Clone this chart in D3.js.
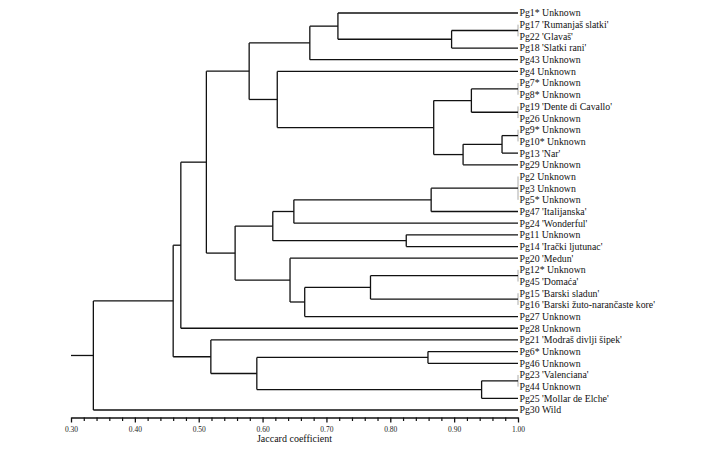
<!DOCTYPE html>
<html><head><meta charset="utf-8">
<script src="https://cdn.jsdelivr.net/npm/d3@7"></script>
<style>body{margin:0;background:#fff}svg{display:block}</style>
</head><body>
<svg id="chart" width="718" height="449"></svg>
<script>
// Leaf labels, top to bottom
const leafLabels = [
  "Pg1* Unknown", "Pg17 'Rumanjaš slatki'", "Pg22 'Glavaš'", "Pg18 'Slatki rani'", "Pg43 Unknown",
  "Pg4 Unknown", "Pg7* Unknown", "Pg8* Unknown", "Pg19 'Dente di Cavallo'", "Pg26 Unknown",
  "Pg9* Unknown", "Pg10* Unknown", "Pg13 'Nar'", "Pg29 Unknown", "Pg2 Unknown",
  "Pg3 Unknown", "Pg5* Unknown", "Pg47 'Italijanska'", "Pg24 'Wonderful'", "Pg11 Unknown",
  "Pg14 'Irački ljutunac'", "Pg20 'Medun'", "Pg12* Unknown", "Pg45 'Domaća'", "Pg15 'Barski sladun'",
  "Pg16 'Barski žuto-narančaste kore'", "Pg27 Unknown", "Pg28 Unknown", "Pg21 'Modraš divlji šipek'", "Pg6* Unknown",
  "Pg46 Unknown", "Pg23 'Valenciana'", "Pg44 Unknown", "Pg25 'Mollar de Elche'", "Pg30 Wild"
];
// Merge table: children (index < 35 = leaf, else merge 35+k), similarity
const mergeChildren = [
  [1,2],[35,3],[0,36],[37,4],[6,7],[8,9],[39,40],[10,11],[42,12],[43,13],
  [41,44],[5,45],[38,46],[14,15,16],[48,17],[49,18],[19,20],[50,51],[22,23],[24,25],
  [53,54],[55,26],[21,56],[52,57],[47,58],[59,27],[29,30],[31,32],[62,33],[61,63],
  [28,64],[60,65],[66,34]
];
const mergeSim = [
  1.00,0.896,0.718,0.674,1.00,1.00,0.927,1.00,0.975,0.914,
  0.868,0.623,0.579,1.00,0.864,0.649,0.825,0.616,1.00,1.00,
  0.769,0.666,0.643,0.557,0.512,0.472,0.859,1.00,0.943,0.591,
  0.519,0.460,0.335
];
const axisMin = 0.30, axisMax = 1.00;
const majorTicks = [0.30,0.40,0.50,0.60,0.70,0.80,0.90,1.00];
const minorTicks = [0.32,0.34,0.36,0.38,0.42,0.44,0.46,0.48,0.52,0.54,0.56,0.58,0.62,0.64,0.66,0.68,
                    0.72,0.74,0.76,0.78,0.82,0.84,0.86,0.88,0.92,0.94,0.96,0.98];
const axisTitle = "Jaccard coefficient";

// build tree
const nLeaves = leafLabels.length;
function build(id){
  if (id < nLeaves) return {name: leafLabels[id], sim: 1.0, leaf: true};
  const k = id - nLeaves;
  return {sim: mergeSim[k], children: mergeChildren[k].map(build)};
}
const rootData = build(nLeaves + mergeChildren.length - 1);

const svg = d3.select("#chart");
const x = d3.scaleLinear().domain([axisMin, axisMax]).range([71, 518]);
const yTop = 13, yBot = 410;

const root = d3.hierarchy(rootData);
d3.cluster().separation(() => 1).size([yBot - yTop, 1])(root);
const lv = root.leaves();
const y = d3.scaleLinear().domain([lv[0].x, lv[lv.length-1].x]).range([yTop, yBot]);
root.each(d => { d.py = y(d.x); });

const g = svg.append("g").attr("fill","none").attr("stroke","#111").attr("stroke-width",1.3);

root.each(d => {
  const xs = x(d.data.sim);
  if (d.children) {
    const ys = d.children.map(c => c.py);
    const identical = d.data.sim >= 1.0;
    g.append("line").attr("x1", xs).attr("x2", xs)
      .attr("y1", d3.min(ys)).attr("y2", d3.max(ys))
      .attr("stroke", identical ? "#aaa" : "#111")
      .attr("stroke-width", identical ? 1 : 1.3);
  }
  const px = d.parent ? x(d.parent.data.sim) : x(axisMin);
  if (!(d.parent && d.parent.data.sim >= 1.0)) {
    g.append("line").attr("x1", px).attr("x2", xs).attr("y1", d.py).attr("y2", d.py);
  }
});

svg.append("g").selectAll("text").data(lv).join("text")
  .attr("x", x(1.0) + 1.5).attr("y", d => d.py).attr("dy", "0.35em")
  .attr("font-family", "'Liberation Serif', 'Times New Roman', serif")
  .attr("font-size", 9.8).attr("fill", "#111")
  .text(d => d.data.name);

// axis
const axisY = 417.5;
const ax = svg.append("g").attr("transform", `translate(0,${axisY})`)
  .call(d3.axisBottom(x).tickValues(majorTicks).tickFormat(d3.format(".2f")).tickSize(5).tickSizeOuter(0).tickPadding(4));
ax.select(".domain").attr("stroke","#111").attr("stroke-width",1.3);
ax.selectAll(".tick line").attr("stroke","#111").attr("stroke-width",1.3);
ax.selectAll("text").attr("font-family","'Liberation Serif', 'Times New Roman', serif").attr("font-size",7.5).attr("fill","#222");
const axm = svg.append("g").attr("transform", `translate(0,${axisY})`)
  .call(d3.axisBottom(x).tickValues(minorTicks).tickFormat("").tickSize(3.5).tickSizeOuter(0));
axm.select(".domain").remove();
axm.selectAll(".tick line").attr("stroke","#111").attr("stroke-width",1.2);

svg.append("text").attr("x", (x(axisMin)+x(axisMax))/2).attr("y", 441.5)
  .attr("text-anchor","middle")
  .attr("font-family","'Liberation Serif', 'Times New Roman', serif")
  .attr("font-size",10).attr("fill","#111").text(axisTitle);
</script>
</body></html>
